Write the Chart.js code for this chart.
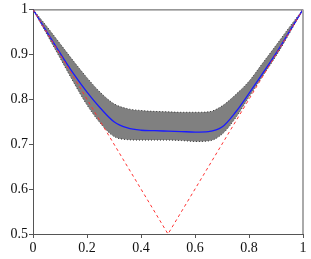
<!DOCTYPE html>
<html>
<head>
<meta charset="utf-8">
<script src="https://cdn.jsdelivr.net/npm/chart.js@4"></script>
<style>
  html, body { margin: 0; padding: 0; background: #fff; }
  #wrap { width: 311px; height: 259px; }
</style>
</head>
<body>
<div id="wrap"><canvas id="chart"></canvas></div>
<script>
const xs = [0, 0.05, 0.1, 0.15, 0.2, 0.25, 0.3, 0.35, 0.4, 0.45, 0.5, 0.55, 0.6, 0.65, 0.7, 0.75, 0.8, 0.85, 0.9, 0.95, 1];
const meanY = [1, 0.951, 0.903, 0.857, 0.816, 0.78, 0.75, 0.736, 0.731, 0.730, 0.729, 0.728, 0.727, 0.728, 0.738, 0.771, 0.813, 0.857, 0.902, 0.951, 1];
const upperY = [1, 0.963, 0.924, 0.885, 0.848, 0.815, 0.79, 0.779, 0.775, 0.773, 0.772, 0.771, 0.771, 0.772, 0.785, 0.81, 0.84, 0.88, 0.92, 0.961, 1];
const lowerY = [1, 0.946, 0.892, 0.838, 0.787, 0.746, 0.717, 0.710, 0.709, 0.709, 0.709, 0.708, 0.706, 0.707, 0.722, 0.758, 0.805, 0.851, 0.896, 0.947, 1];
const refX = [0, 0.5, 1];
const refY = [1, 0.5, 1];
const xTickLabels = ['0', '0.2', '0.4', '0.6', '0.8', '1'];
const yTickLabels = ['0.5', '0.6', '0.7', '0.8', '0.9', '1'];

function pts(xv, yv) {
  return xv.map((x, i) => ({ x: x, y: yv[i] }));
}

const frame = {
  id: 'frame',
  afterDatasetsDraw(chart) {
    const { ctx, chartArea: a } = chart;
    ctx.save();
    ctx.strokeStyle = '#555';
    ctx.lineWidth = 1;
    ctx.beginPath();
    ctx.moveTo(a.left, a.top + 0.5);
    ctx.lineTo(a.right, a.top + 0.5);
    ctx.stroke();
    ctx.strokeStyle = '#aaa';
    ctx.lineWidth = 2;
    ctx.beginPath();
    ctx.moveTo(a.right, a.top);
    ctx.lineTo(a.right, a.bottom);
    ctx.stroke();
    ctx.restore();
  }
};

const serif = { family: 'Liberation Serif', size: 14 };

new Chart(document.getElementById('chart').getContext('2d'), {
  type: 'line',
  data: {
    datasets: [
      {
        data: pts(xs, upperY),
        order: 3,
        borderColor: '#333',
        borderWidth: 1,
        borderDash: [1, 2],
        backgroundColor: '#808080',
        fill: '+1',
        pointRadius: 0,
        cubicInterpolationMode: 'monotone'
      },
      {
        data: pts(xs, lowerY),
        order: 2,
        borderColor: '#333',
        borderWidth: 1,
        borderDash: [1, 2],
        fill: false,
        pointRadius: 0,
        cubicInterpolationMode: 'monotone'
      },
      {
        data: pts(xs, meanY),
        order: 1,
        borderColor: '#1a1aff',
        borderWidth: 1.3,
        fill: false,
        pointRadius: 0,
        cubicInterpolationMode: 'monotone'
      },
      {
        data: pts(refX, refY),
        order: 0,
        borderColor: '#ff3333',
        borderWidth: 1,
        borderDash: [3, 3],
        fill: false,
        pointRadius: 0,
        tension: 0
      }
    ]
  },
  options: {
    responsive: true,
    maintainAspectRatio: false,
    animation: false,
    layout: { padding: { left: 0, top: 9, right: 8, bottom: 0 } },
    plugins: {
      legend: { display: false },
      tooltip: { enabled: false }
    },
    scales: {
      x: {
        type: 'linear',
        min: 0,
        max: 1,
        afterFit: s => { s.height = 25; },
        grid: { drawOnChartArea: false, drawTicks: true, tickLength: 4, color: '#555' },
        border: { display: true, color: '#555', width: 1 },
        ticks: {
          stepSize: 0.2,
          padding: 2,
          color: '#111',
          font: serif,
          maxRotation: 0,
          callback: v => xTickLabels[Math.round(v / 0.2)]
        }
      },
      y: {
        type: 'linear',
        min: 0.5,
        max: 1,
        afterFit: s => { s.width = 33; },
        grid: { drawOnChartArea: false, drawTicks: true, tickLength: 4, color: '#555' },
        border: { display: true, color: '#555', width: 1 },
        ticks: {
          stepSize: 0.1,
          padding: 1,
          color: '#111',
          font: serif,
          callback: v => yTickLabels[Math.round((v - 0.5) / 0.1)]
        }
      }
    }
  },
  plugins: [frame]
});
</script>
</body>
</html>
